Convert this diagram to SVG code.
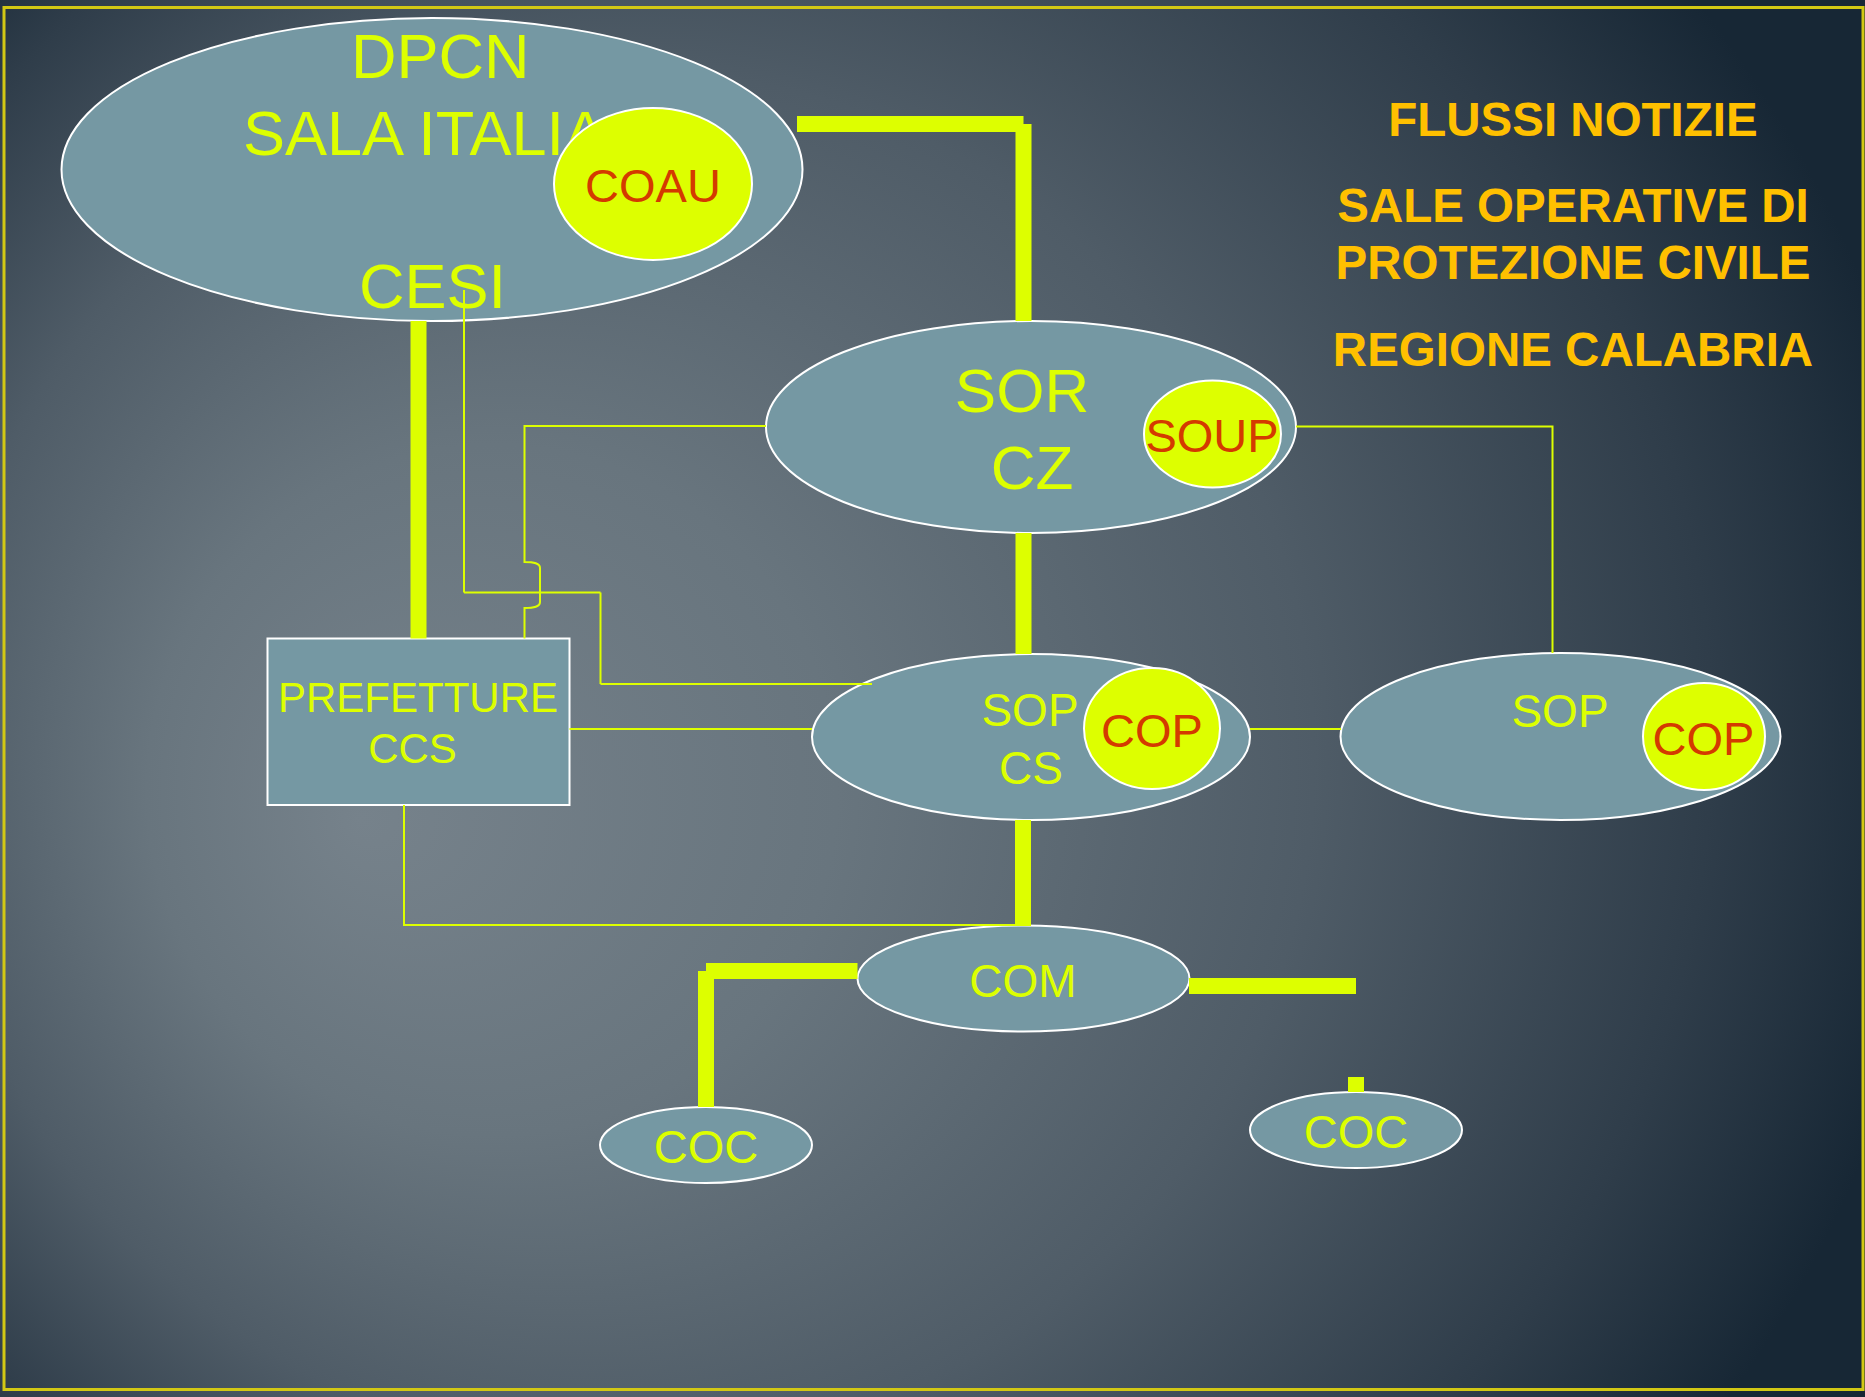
<svg xmlns="http://www.w3.org/2000/svg" width="1865" height="1397" viewBox="0 0 1865 1397">
  <defs>
    <radialGradient id="bg" gradientUnits="userSpaceOnUse" cx="800" cy="720" r="1150" fx="360" fy="820">
      <stop offset="0" stop-color="#76828b"/>
      <stop offset="0.3" stop-color="#68757e"/>
      <stop offset="0.6" stop-color="#4f5c67"/>
      <stop offset="0.85" stop-color="#2f3d4a"/>
      <stop offset="1" stop-color="#172735"/>
    </radialGradient>
    <style>
      .node { fill: #7598a3; stroke: #ffffff; stroke-width: 2; }
      .sub { fill: #ddff00; stroke: #ffffff; stroke-width: 2; }
      .lbl { fill: #ddff00; font-family: "Liberation Sans", Arial, sans-serif; }
      .red { fill: #d43a00; font-family: "Liberation Sans", Arial, sans-serif; }
      .title { fill: #ffc000; font-family: "Liberation Sans", Arial, sans-serif; font-weight: bold; font-size: 47.5px; text-anchor: middle; }
      .thick { stroke: #ddff00; stroke-width: 16; fill: none; stroke-linecap: butt; }
      .thin { stroke: #ddff00; stroke-width: 2; fill: none; }
    </style>
  </defs>

  <rect x="0" y="0" width="1865" height="1397" fill="url(#bg)"/>
  <rect x="4" y="7.5" width="1859" height="1382" fill="none" stroke="#d2c814" stroke-width="3"/>

  <g id="title">
    <text class="title" x="1573" y="136">FLUSSI NOTIZIE</text>
    <text class="title" x="1573" y="222">SALE OPERATIVE DI</text>
    <text class="title" x="1573" y="279">PROTEZIONE CIVILE</text>
    <text class="title" x="1573" y="366">REGIONE CALABRIA</text>
  </g>

  <g id="dpcn">
    <ellipse class="node" cx="432" cy="169.5" rx="370.5" ry="151.5"/>
    <text class="lbl" x="351" y="78" font-size="63">DPCN</text>
    <text class="lbl" x="243" y="155" font-size="63">SALA ITALIA</text>
    <text class="lbl" x="359" y="308" font-size="63">CESI</text>
    <ellipse class="sub" cx="653" cy="184" rx="99" ry="76"/>
    <text class="red" x="653" y="202" font-size="47" text-anchor="middle">COAU</text>
  </g>

  <g id="sor">
    <ellipse class="node" cx="1031" cy="427" rx="265" ry="106"/>
    <text class="lbl" x="1022" y="412" font-size="62" text-anchor="middle">SOR</text>
    <text class="lbl" x="1032" y="489" font-size="62" text-anchor="middle">CZ</text>
    <ellipse class="sub" cx="1212.5" cy="434" rx="68.5" ry="53.5"/>
    <text class="red" x="1212" y="452" font-size="47" text-anchor="middle">SOUP</text>
  </g>

  <g id="prefetture">
    <rect class="node" x="267.5" y="638.5" width="302" height="166.5"/>
    <text class="lbl" x="418" y="712" font-size="42" text-anchor="middle">PREFETTURE</text>
    <text class="lbl" x="412.5" y="763" font-size="42" text-anchor="middle">CCS</text>
  </g>

  <g id="sop-cs">
    <ellipse class="node" cx="1031" cy="737" rx="219" ry="83"/>
    <text class="lbl" x="1030" y="726" font-size="46" text-anchor="middle">SOP</text>
    <text class="lbl" x="1031" y="784" font-size="46" text-anchor="middle">CS</text>
    <ellipse class="sub" cx="1152" cy="728.5" rx="68" ry="60.5"/>
    <text class="red" x="1152" y="747" font-size="47" text-anchor="middle">COP</text>
  </g>

  <g id="sop">
    <ellipse class="node" cx="1560.5" cy="736.5" rx="220" ry="83.5"/>
    <text class="lbl" x="1560" y="726.5" font-size="46" text-anchor="middle">SOP</text>
    <ellipse class="sub" cx="1704" cy="736.5" rx="61" ry="53.5"/>
    <text class="red" x="1703.5" y="755" font-size="47" text-anchor="middle">COP</text>
  </g>

  <g id="com">
    <ellipse class="node" cx="1023.5" cy="978.5" rx="166" ry="53"/>
    <text class="lbl" x="1023" y="996.5" font-size="46" text-anchor="middle">COM</text>
  </g>

  <g id="coc-left">
    <ellipse class="node" cx="706" cy="1145" rx="106" ry="38"/>
    <text class="lbl" x="706" y="1163" font-size="47" text-anchor="middle">COC</text>
  </g>

  <g id="coc-right">
    <ellipse class="node" cx="1356" cy="1130" rx="106" ry="38"/>
    <text class="lbl" x="1356" y="1148" font-size="47" text-anchor="middle">COC</text>
  </g>

  <g id="connectors">
    <line class="thick" x1="797" y1="124" x2="1023.5" y2="124"/>
    <line class="thick" x1="1023.5" y1="124" x2="1023.5" y2="321" stroke-width="15"/>
    <line class="thick" x1="418.5" y1="321" x2="418.5" y2="638.5"/>
    <line class="thick" x1="1023.5" y1="533" x2="1023.5" y2="654" stroke-width="15"/>
    <line class="thick" x1="1023" y1="820" x2="1023" y2="926" stroke-width="15"/>
    <line class="thick" x1="706" y1="971" x2="857.5" y2="971"/>
    <line class="thick" x1="706" y1="971" x2="706" y2="1107" stroke-width="15"/>
    <line class="thick" x1="1189" y1="986" x2="1356" y2="986"/>
    <line class="thick" x1="1356" y1="1077" x2="1356" y2="1092" stroke-width="15"/>
    <polyline class="thin" points="464,290 464,592.5" stroke-width="1.6"/>
    <polyline class="thin" points="464,592.5 600.5,592.5" stroke-width="2.5"/>
    <polyline class="thin" points="600.5,592.5 600.5,684" stroke-width="2"/>
    <polyline class="thin" points="600.5,684 872,684" stroke-width="3.2"/>
    <path class="thin" d="M766,426 H524.5 V562 C534,562 540,563 540,568 V602 C540,607 534,608 524.5,608 V638.5" stroke-width="1.6"/>
    <line class="thin" x1="569.5" y1="729" x2="812" y2="729" stroke-width="2.2"/>
    <line class="thin" x1="1250" y1="729" x2="1341" y2="729" stroke-width="2"/>
    <polyline class="thin" points="1296,426.5 1552.5,426.5 1552.5,653" stroke-width="1.6"/>
    <polyline class="thin" points="404,805 404,925 1023,925" stroke-width="2"/>
  </g>
</svg>
